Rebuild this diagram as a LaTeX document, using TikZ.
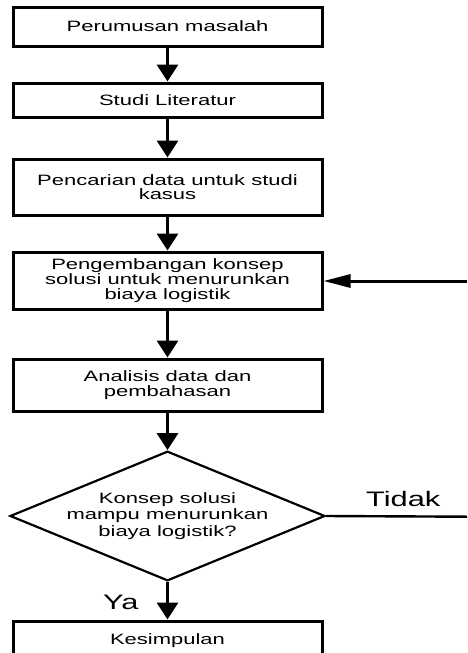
\documentclass[tikz,border=0pt]{standalone}
\usepackage{fontspec}
\setmainfont{Liberation Sans}[FakeStretch=1.467]
\usetikzlibrary{arrows.meta,shapes.geometric}
\tikzset{
  procbox/.style={draw, line width=3pt, minimum width=309pt, inner sep=0pt, align=center, font=\fontsize{15}{15.3}\selectfont},
  decbox/.style={draw, diamond, line width=2.2pt, minimum width=309pt, minimum height=127pt, aspect=2.43, inner sep=0pt, align=center, font=\fontsize{15}{16.3}\selectfont},
  flow/.style={line width=3.3pt, -{Triangle[length=17pt,width=21pt]}},
  backflow/.style={line width=3pt, -{Triangle[length=27pt,width=13pt]}},
  plain/.style={line width=2.4pt},
  lbl/.style={inner sep=0pt, anchor=base west, font=\fontsize{21}{21}\selectfont}
}
\begin{document}
\begin{tikzpicture}[x=1pt,y=-1pt]
\useasboundingbox (0,0) rectangle (467,653);
\node[procbox, minimum height=39pt] (b1) at (167.5,26.5) {Perumusan masalah};
\node[procbox, minimum height=34pt] (b2) at (167.5,100) {Studi Literatur};
\node[procbox, minimum height=56pt, font=\fontsize{15}{13.5}\selectfont] (b3) at (167.5,187) {Pencarian data untuk studi\\kasus};
\node[procbox, minimum height=57pt] (b4) at (167.5,280.5) {Pengembangan konsep\\solusi untuk menurunkan\\biaya logistik};
\node[procbox, minimum height=52pt] (b5) at (167.5,385) {Analisis data dan\\pembahasan};
\node[decbox] (d1) at (167.5,516) {Konsep solusi\\mampu menurunkan\\biaya logistik?};
\node[procbox, minimum height=40pt] (b6) at (167.5,641) {Kesimpulan};
\coordinate (tR) at (467,516.7);
\coordinate (fR) at (467,281);
\draw[flow] (b1) -- (b2);
\draw[flow] (b2) -- (b3);
\draw[flow] (b3) -- (b4);
\draw[flow] (b4) -- (b5);
\draw[flow] (b5) -- (d1);
\draw[flow] (d1) -- (b6);
\draw[plain] (d1.east) -- (tR);
\draw[backflow] (fR) -- (fR -| b4.east);
\node[lbl] (tidak) at (366,506.7) {Tidak};
\node[lbl] (ya) at (103,609.3) {Ya};
\end{tikzpicture}
\end{document}
